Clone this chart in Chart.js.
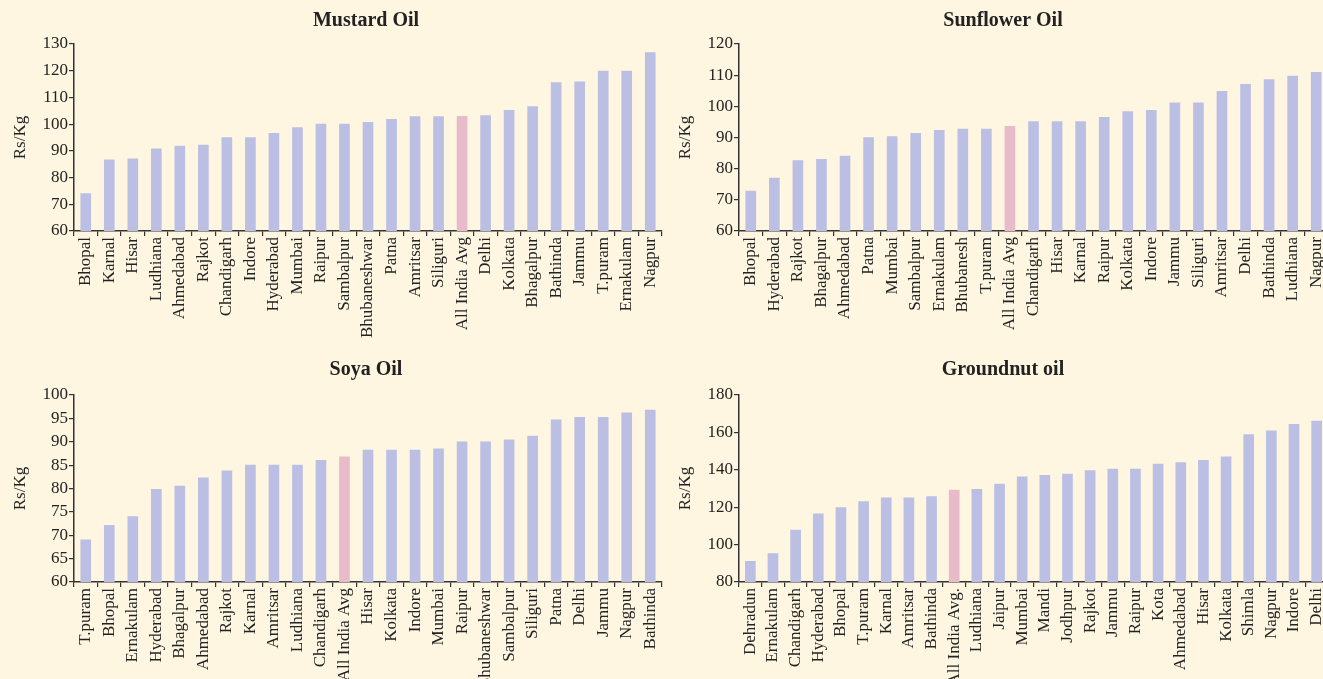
<!DOCTYPE html>
<html>
<head>
<meta charset="utf-8">
<script src="https://cdn.jsdelivr.net/npm/chart.js"></script>
<style>
  html, body { margin: 0; padding: 0; background: #fef6e1; overflow: hidden; }
  body { width: 1323px; height: 679px; position: relative; }
  canvas { position: absolute; }
  #mustard { left: 0; top: 0; }
  #sunflower { left: 656px; top: 0; }
  #soya { left: 0; top: 340px; }
  #groundnut { left: 656px; top: 340px; }
</style>
</head>
<body>
<canvas id="mustard" width="732" height="350"></canvas>
<canvas id="sunflower" width="694" height="350"></canvas>
<canvas id="soya" width="732" height="345"></canvas>
<canvas id="groundnut" width="694" height="345"></canvas>
<script>
// Mustard oil, Rs/Kg
const mustardCities = ['Bhopal', 'Karnal', 'Hisar', 'Ludhiana', 'Ahmedabad', 'Rajkot', 'Chandigarh', 'Indore',
  'Hyderabad', 'Mumbai', 'Raipur', 'Sambalpur', 'Bhubaneshwar', 'Patna', 'Amritsar', 'Siliguri',
  'All India Avg', 'Delhi', 'Kolkata', 'Bhagalpur', 'Bathinda', 'Jammu', 'T.puram', 'Ernakulam', 'Nagpur'];
const mustardPrices = [74.0, 86.6, 87.0, 90.8, 91.8, 92.2, 95.0, 95.0, 96.6, 98.7, 100.0, 100.0, 100.7, 101.8,
  102.8, 102.8, 102.9, 103.2, 105.2, 106.6, 115.6, 115.8, 119.9, 119.9, 126.8];
const mustardTicks = [60, 130, 10];

// Sunflower oil, Rs/Kg
const sunflowerCities = ['Bhopal', 'Hyderabad', 'Rajkot', 'Bhagalpur', 'Ahmedabad', 'Patna', 'Mumbai', 'Sambalpur',
  'Ernakulam', 'Bhubanesh', 'T.puram', 'All India Avg', 'Chandigarh', 'Hisar', 'Karnal', 'Raipur', 'Kolkata',
  'Indore', 'Jammu', 'Siliguri', 'Amritsar', 'Delhi', 'Bathinda', 'Ludhiana', 'Nagpur'];
const sunflowerPrices = [72.8, 77.0, 82.6, 83.0, 84.0, 90.0, 90.3, 91.3, 92.3, 92.7, 92.7, 93.6, 95.1, 95.1, 95.1,
  96.5, 98.3, 98.7, 101.1, 101.1, 104.8, 107.1, 108.6, 109.7, 110.9];
const sunflowerTicks = [60, 120, 10];

// Soya oil, Rs/Kg
const soyaCities = ['T.puram', 'Bhopal', 'Ernakulam', 'Hyderabad', 'Bhagalpur', 'Ahmedabad', 'Rajkot', 'Karnal',
  'Amritsar', 'Ludhiana', 'Chandigarh', 'All India Avg', 'Hisar', 'Kolkata', 'Indore', 'Mumbai', 'Raipur',
  'Bhubaneshwar', 'Sambalpur', 'Siliguri', 'Patna', 'Delhi', 'Jammu', 'Nagpur', 'Bathinda'];
const soyaPrices = [69.0, 72.1, 74.0, 79.8, 80.5, 82.3, 83.8, 85.0, 85.0, 85.0, 86.0, 86.8, 88.2, 88.2, 88.2, 88.5,
  90.0, 90.0, 90.4, 91.2, 94.7, 95.2, 95.2, 96.2, 96.8];
const soyaTicks = [60, 100, 5];

// Groundnut oil, Rs/Kg
const groundnutCities = ['Dehradun', 'Ernakulam', 'Chandigarh', 'Hyderabad', 'Bhopal', 'T.puram', 'Karnal', 'Amritsar',
  'Bathinda', 'All India Avg.', 'Ludhiana', 'Jaipur', 'Mumbai', 'Mandi', 'Jodhpur', 'Rajkot', 'Jammu', 'Raipur',
  'Kota', 'Ahmedabad', 'Hisar', 'Kolkata', 'Shimla', 'Nagpur', 'Indore', 'Delhi'];
const groundnutPrices = [91.1, 95.2, 107.7, 116.4, 119.8, 123.0, 125.0, 125.0, 125.7, 129.1, 129.6, 132.3, 136.3,
  137.0, 137.7, 139.6, 140.4, 140.4, 143.0, 143.8, 145.0, 147.0, 158.8, 160.9, 164.3, 166.1];
const groundnutTicks = [80, 180, 20];

const BAR = '#bbbfe4';
const AVG = '#e8bbca';
const INK = '#222';
const SERIF = "'Liberation Serif', 'DejaVu Serif', serif";

function drawChart(id, title, cities, prices, ticks, box) {
  const ctx = document.getElementById(id).getContext('2d');
  return new Chart(ctx, {
    type: 'bar',
    data: {
      labels: cities,
      datasets: [{
        data: prices,
        backgroundColor: cities.map(c => c.startsWith('All India') ? AVG : BAR),
        barThickness: 10,
        borderWidth: 0
      }]
    },
    options: {
      responsive: false,
      animation: false,
      layout: { padding: 0 },
      plugins: {
        legend: { display: false },
        tooltip: { enabled: false },
        title: {
          display: true,
          text: title,
          color: INK,
          font: { family: SERIF, size: 20, weight: 'bold' },
          padding: { top: box.titleTop, bottom: box.titleBottom }
        }
      },
      scales: {
        x: {
          grid: { drawOnChartArea: false, drawTicks: true, tickLength: 5, color: '#333', lineWidth: 1.2 },
          border: { color: '#333', width: 1.5 },
          ticks: {
            color: INK,
            font: { family: SERIF, size: 17 },
            autoSkip: false,
            minRotation: 90,
            maxRotation: 90,
            padding: 1
          },
          afterFit: a => { a.height = box.xHeight; }
        },
        y: {
          min: ticks[0],
          max: ticks[1],
          grid: { drawOnChartArea: false, drawTicks: true, tickLength: 5, color: '#333', lineWidth: 1.2 },
          border: { color: '#333', width: 1.5 },
          ticks: {
            stepSize: ticks[2],
            autoSkip: false,
            color: INK,
            font: { family: SERIF, size: 17 },
            padding: 1
          },
          title: {
            display: true,
            text: 'Rs/Kg',
            color: INK,
            font: { family: SERIF, size: 17 },
            padding: { top: box.yTitlePad, bottom: 0 }
          },
          afterFit: a => { a.width = box.yWidth; }
        },
        spacer: {
          type: 'linear',
          position: 'right',
          grid: { display: false },
          border: { display: false },
          ticks: { display: false },
          afterFit: a => { a.width = box.rightWidth; }
        }
      }
    }
  });
}

drawChart('mustard', 'Mustard Oil', mustardCities, mustardPrices, mustardTicks,
  { titleTop: 9, titleBottom: 11, xHeight: 119, yWidth: 74, rightWidth: 70, yTitlePad: 10.5 });
drawChart('sunflower', 'Sunflower Oil', sunflowerCities, sunflowerPrices, sunflowerTicks,
  { titleTop: 9, titleBottom: 11, xHeight: 119, yWidth: 83, rightWidth: 22, yTitlePad: 19.8 });
drawChart('soya', 'Soya Oil', soyaCities, soyaPrices, soyaTicks,
  { titleTop: 18, titleBottom: 13, xHeight: 103, yWidth: 74, rightWidth: 70, yTitlePad: 10.5 });
drawChart('groundnut', 'Groundnut oil', groundnutCities, groundnutPrices, groundnutTicks,
  { titleTop: 18, titleBottom: 13, xHeight: 103, yWidth: 83, rightWidth: 22, yTitlePad: 19.8 });
</script>
</body>
</html>
